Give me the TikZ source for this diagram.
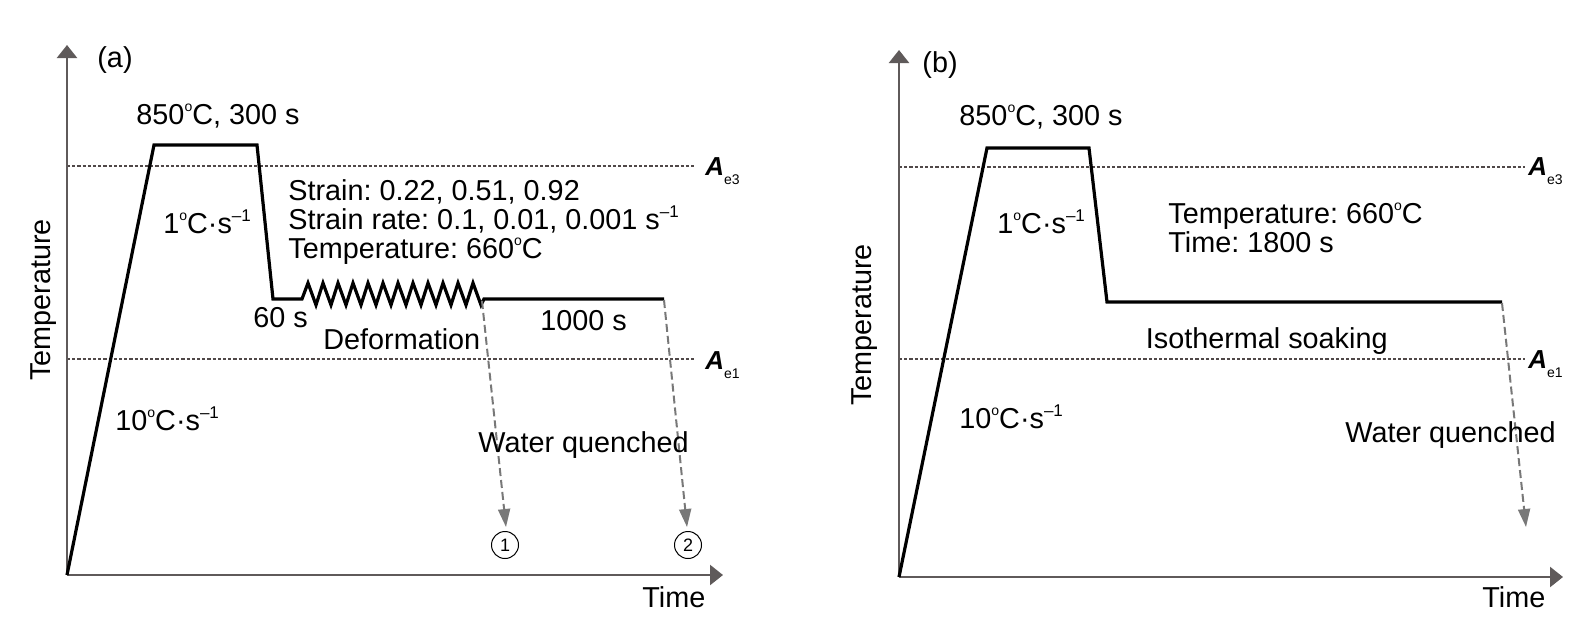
\documentclass[tikz,border=0pt]{standalone}
\usepackage{fontspec}
\setmainfont{Liberation Sans}
\usetikzlibrary{arrows.meta}
\definecolor{axisgray}{RGB}{95,90,90}
\definecolor{dashgray}{RGB}{80,72,72}
\definecolor{qgray}{RGB}{120,120,120}
\frenchspacing
\newcommand{\dgr}{\raisebox{6.2pt}{\fontsize{7}{7}\selectfont o}}
\newcommand{\psec}{s\raisebox{5.6pt}{\fontsize{8.5}{8.5}\selectfont\textendash1}}
\newcommand{\Alab}[1]{{\fontsize{13}{13}\selectfont\bfseries\itshape A}\raisebox{-4.5pt}{\fontsize{7}{7}\selectfont #1}}
\begin{document}
\begin{tikzpicture}[x=0.5pt,y=-0.5pt,
  axisline/.style={draw=axisgray,line width=1.2pt,-{Triangle[length=6.5pt,width=10pt]}},
  profile/.style={draw=black,line width=1.6pt,line join=miter},
  crit/.style={draw=dashgray,line width=0.8pt,dash pattern=on 1.6pt off 1pt},
  quench/.style={draw=qgray,line width=1pt,dash pattern=on 4pt off 2pt,-{Triangle[length=9pt,width=6pt]}},
  lbl/.style={font=\fontsize{14.4}{17}\selectfont,inner sep=0pt},
  num/.style={draw,circle,line width=0.5pt,minimum size=13.5pt,inner sep=0pt,font=\fontsize{9}{9}\selectfont}
]
\useasboundingbox (0,0) rectangle (1594,634);
% ================= panel (a) =================
\coordinate (oA) at (67,575);
\coordinate (yA) at (67,45);
\coordinate (xA) at (723,575);
\coordinate (e3a0) at (67,166);
\coordinate (e3a1) at (695,166);
\coordinate (e1a0) at (67,359);
\coordinate (e1a1) at (695,359);
\draw[crit] (e3a0) -- (e3a1);
\draw[crit] (e1a0) -- (e1a1);
\draw[axisline] (oA) -- (yA);
\draw[axisline] (oA) -- (xA);
\coordinate (pa1) at (154,145);
\coordinate (pa2) at (257,145);
\coordinate (pa3) at (273,299);
\coordinate (pa4) at (302,299);
\coordinate (pa5) at (484,299);
\coordinate (pa6) at (664,299);
\draw[profile] (oA) -- (pa1) -- (pa2) -- (pa3) -- (pa4)
  \foreach \k in {0,...,11} { -- (308+15*\k,283) -- (316+15*\k,305) } -- (pa5) -- (pa6);
\coordinate (q1s) at (482,301);
\coordinate (q1e) at (506,527);
\coordinate (q2s) at (664,300);
\coordinate (q2e) at (687,527);
\draw[quench] (q1s) -- (q1e);
\draw[quench] (q2s) -- (q2e);
\node[num] (c1) at (505,545) {1};
\node[num] (c2) at (688,545) {2};
\node[lbl,anchor=base] (ta) at (115,67) {(a)};
\node[lbl,anchor=base] (holda) at (218,124) {850\dgr C, 300 s};
\node[lbl,anchor=base west] (coola) at (163,233) {1\dgr C·\psec};
\node[lbl,anchor=base west] (s1) at (288,200) {Strain: 0.22, 0.51, 0.92};
\node[lbl,anchor=base west] (s2) at (288,229) {Strain rate: 0.1, 0.01, 0.001 \psec};
\node[lbl,anchor=base west] (s3) at (288,258) {Temperature: 660\dgr C};
\node[lbl,anchor=base west] (t60) at (253,327) {60 s};
\node[lbl,anchor=base west] (defo) at (323,349) {Deformation};
\node[lbl,anchor=base west] (t1000) at (540,330) {1000 s};
\node[lbl,anchor=base west] (wqa) at (478,452) {Water quenched};
\node[lbl,anchor=base west] (heata) at (115,430) {10\dgr C·\psec};
\node[lbl,anchor=base west] (timea) at (642,607) {Time};
\node[lbl,anchor=base,rotate=90] (tempa) at (50,300) {Temperature};
\node[lbl,anchor=base west] (ae3a) at (705,175) {\Alab{e3}};
\node[lbl,anchor=base west] (ae1a) at (705,369) {\Alab{e1}};
% ================= panel (b) =================
\coordinate (oB) at (899,577);
\coordinate (yB) at (899,50);
\coordinate (xB) at (1563,577);
\coordinate (e3b0) at (899,167);
\coordinate (e3b1) at (1525,167);
\coordinate (e1b0) at (899,359);
\coordinate (e1b1) at (1525,359);
\draw[crit] (e3b0) -- (e3b1);
\draw[crit] (e1b0) -- (e1b1);
\draw[axisline] (oB) -- (yB);
\draw[axisline] (oB) -- (xB);
\coordinate (pb1) at (987,148);
\coordinate (pb2) at (1089,148);
\coordinate (pb3) at (1107,302);
\coordinate (pb4) at (1502,302);
\draw[profile] (oB) -- (pb1) -- (pb2) -- (pb3) -- (pb4);
\coordinate (q3s) at (1502,303);
\coordinate (q3e) at (1526,527);
\draw[quench] (q3s) -- (q3e);
\node[lbl,anchor=base] (tb) at (940,72) {(b)};
\node[lbl,anchor=base] (holdb) at (1041,125) {850\dgr C, 300 s};
\node[lbl,anchor=base west] (coolb) at (997,233) {1\dgr C·\psec};
\node[lbl,anchor=base west] (isoT) at (1168,223) {Temperature: 660\dgr C};
\node[lbl,anchor=base west] (isot) at (1168,252) {Time: 1800 s};
\node[lbl,anchor=base east] (soak) at (1388,348) {Isothermal soaking};
\node[lbl,anchor=base west] (heatb) at (959,428) {10\dgr C·\psec};
\node[lbl,anchor=base west] (wqb) at (1345,442) {Water quenched};
\node[lbl,anchor=base west] (timeb) at (1482,607) {Time};
\node[lbl,anchor=base,rotate=90] (tempb) at (871,325) {Temperature};
\node[lbl,anchor=base west] (ae3b) at (1528,175) {\Alab{e3}};
\node[lbl,anchor=base west] (ae1b) at (1528,368) {\Alab{e1}};
\end{tikzpicture}
\end{document}
